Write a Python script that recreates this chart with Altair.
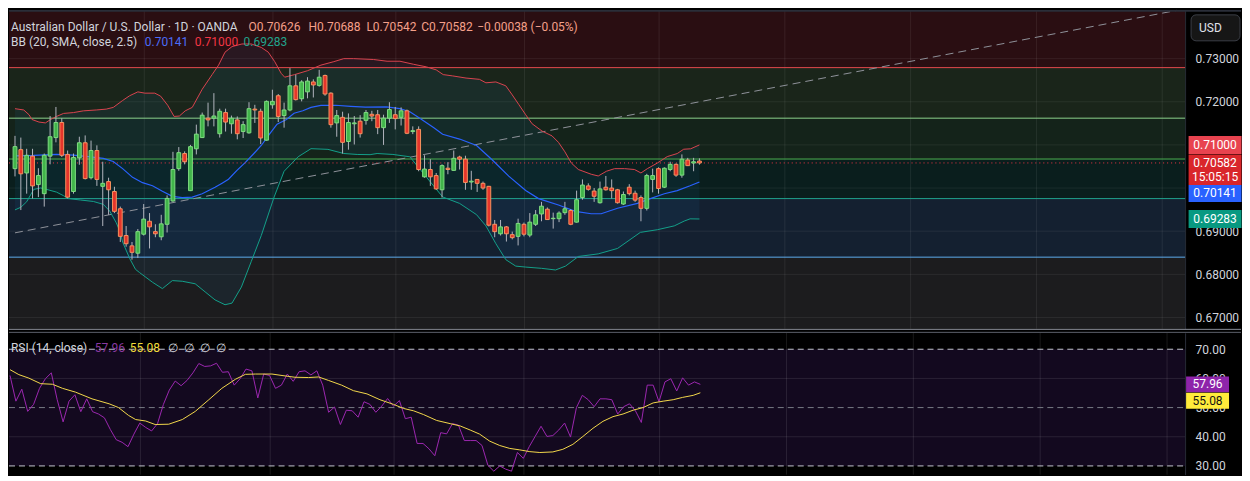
import altair as alt
import pandas as pd

FONT = "Roboto"
W, AX = 1178, 56
HM, HR = 319, 142

# ---------------- data ----------------
opens = [0.7045,0.7089,0.7035,0.7074,0.7008,0.6987,0.7074,0.7117,0.7152,0.7078,
0.6992,0.7070,0.7105,0.7024,0.7087,0.7004,0.7015,0.6992,0.6952,0.6890,
0.6866,0.6849,0.6893,0.6923,0.6899,0.6887,0.6916,0.6970,0.7045,0.7080,
0.6994,0.7091,0.7117,0.7162,0.7162,0.7126,0.7175,0.7149,0.7158,0.7131,
0.7128,0.7183,0.7178,0.7111,0.7193,0.7214,0.7168,0.7181,0.7237,0.7207,
0.7223,0.7246,0.7238,0.7261,0.7220,0.7151,0.7164,0.7108,0.7149,0.7155,
0.7157,0.7171,0.7170,0.7140,0.7162,0.7170,0.7164,0.7179,0.7131,0.7136,
0.7026,0.7043,0.7029,0.6996,0.7046,0.7041,0.7072,0.7067,0.7014,0.7020,
0.7011,0.7004,0.6916,0.6894,0.6910,0.6892,0.6888,0.6916,0.6891,0.6916,
0.6940,0.6951,0.6929,0.6929,0.6943,0.6948,0.6921,0.6978,0.7005,0.6993,
0.6966,0.7002,0.7000,0.6996,0.6963,0.7002,0.6988,0.6978,0.6953,0.7020,
0.7045,0.7002,0.7043,0.7055,0.7030,0.7065,0.7058,0.70626]
highs = [0.7121,0.7117,0.7091,0.7091,0.7046,0.7080,0.7167,0.7188,0.7162,0.7087,
0.7080,0.7119,0.7122,0.7110,0.7099,0.7061,0.7024,0.7003,0.6957,0.6912,
0.6875,0.6905,0.6963,0.6942,0.6916,0.6938,0.6983,0.7084,0.7095,0.7085,
0.7100,0.7147,0.7175,0.7198,0.7220,0.7184,0.7184,0.7168,0.7166,0.7155,
0.7199,0.7193,0.7184,0.7203,0.7228,0.7218,0.7198,0.7278,0.7263,0.7250,
0.7257,0.7252,0.7274,0.7263,0.7222,0.7181,0.7177,0.7173,0.7167,0.7169,
0.7181,0.7179,0.7181,0.7170,0.7199,0.7188,0.7187,0.7182,0.7143,0.7143,
0.7076,0.7067,0.7035,0.7055,0.7060,0.7087,0.7075,0.7075,0.7040,0.7020,
0.7015,0.7005,0.6926,0.6926,0.6912,0.6899,0.6929,0.6920,0.6942,0.6949,
0.6968,0.6955,0.6943,0.6946,0.6968,0.6951,0.6994,0.7020,0.7011,0.7000,
0.7015,0.7028,0.7020,0.6998,0.6992,0.7009,0.6994,0.6983,0.7033,0.7045,
0.7048,0.7048,0.7061,0.7057,0.7078,0.7070,0.7070,0.70688]
lows = [0.7027,0.6949,0.6987,0.6976,0.6979,0.6957,0.7055,0.7106,0.7072,0.6976,
0.6987,0.7054,0.7020,0.7020,0.7005,0.6912,0.6938,0.6942,0.6875,0.6864,
0.6834,0.6838,0.6890,0.6860,0.6886,0.6879,0.6897,0.6968,0.7040,0.7055,
0.6993,0.7078,0.7116,0.7143,0.7143,0.7117,0.7131,0.7126,0.7113,0.7116,
0.7126,0.7151,0.7102,0.7110,0.7184,0.7153,0.7140,0.7178,0.7203,0.7201,
0.7208,0.7210,0.7235,0.7214,0.7140,0.7119,0.7080,0.7089,0.7101,0.7117,
0.7147,0.7155,0.7125,0.7100,0.7151,0.7136,0.7145,0.7125,0.7125,0.7039,
0.7024,0.7005,0.6996,0.6978,0.7032,0.7040,0.7043,0.6996,0.6996,0.6991,
0.6996,0.6911,0.6886,0.6890,0.6876,0.6881,0.6867,0.6888,0.6886,0.6912,
0.6923,0.6926,0.6906,0.6921,0.6938,0.6914,0.6920,0.6973,0.6994,0.6968,
0.6964,0.6994,0.6976,0.6964,0.6961,0.6983,0.6968,0.6923,0.6948,0.6990,
0.6987,0.7000,0.7039,0.7026,0.7024,0.7051,0.7039,0.70542]
closes = [0.7096,0.7033,0.7076,0.7005,0.7029,0.7076,0.7119,0.7152,0.7076,0.6979,
0.7071,0.7105,0.7022,0.7087,0.7020,0.7011,0.6996,0.6946,0.6888,0.6871,
0.6851,0.6899,0.6928,0.6910,0.6894,0.6917,0.6976,0.7043,0.7082,0.7061,
0.7096,0.7125,0.7169,0.7158,0.7167,0.7178,0.7153,0.7162,0.7126,0.7147,
0.7184,0.7181,0.7116,0.7201,0.7201,0.7166,0.7181,0.7237,0.7205,0.7246,
0.7248,0.7239,0.7257,0.7218,0.7147,0.7168,0.7106,0.7152,0.7151,0.7126,
0.7175,0.7167,0.7140,0.7162,0.7182,0.7161,0.7179,0.7127,0.7133,0.7043,
0.7044,0.7026,0.6998,0.7052,0.7043,0.7069,0.7067,0.7013,0.7016,0.7011,
0.7000,0.6914,0.6899,0.6910,0.6894,0.6885,0.6918,0.6893,0.6921,0.6938,
0.6958,0.6927,0.6930,0.6942,0.6952,0.6916,0.6973,0.7007,0.6997,0.6981,
0.6998,0.6996,0.6994,0.6966,0.6985,0.6987,0.6972,0.6953,0.7029,0.7029,
0.6999,0.7046,0.7055,0.7030,0.7067,0.7052,0.7061,0.70582]

bb_up_x = [0,1.5,2.4,2.9,4.1,5.2,6.1,7.1,8.3,10.0,11.7,13.9,15.6,16.8,18.4,19.6,21.0,22.2,23.9,24.9,
26.1,27.2,28.1,29.1,30.3,32.0,33.7,34.8,35.9,37.1,38.8,40.4,42.1,43.3,44.4,45.5,46.1,47.8,50.0,52.3,
54.5,56.2,57.9,61.3,63.6,65.8,68.1,70.3,72.0,73.2,74.8,77.1,79.4,80.5,82.2,83.9,85.0,86.1,87.3,88.4,
90.1,91.8,92.9,94.0,95.1,96.3,98.5,99.7,101.1,102.5,104.2,105.9,107.0,108.1,109.8,111.5,113.2,114.3,115.5,117]
bb_up_y = [0.7184,0.7181,0.7170,0.7159,0.7153,0.7151,0.7159,0.7166,0.7173,0.7175,0.7179,0.7181,0.7183,0.7187,0.7203,0.7214,0.7223,0.7220,0.7220,0.7213,
0.7192,0.7166,0.7167,0.7179,0.7187,0.7229,0.7263,0.7285,0.7315,0.7328,0.7334,0.7334,0.7326,0.7315,0.7293,0.7266,0.7257,0.7263,0.7272,0.7285,
0.7293,0.7300,0.7300,0.7298,0.7294,0.7294,0.7287,0.7281,0.7274,0.7263,0.7260,0.7255,0.7252,0.7244,0.7246,0.7237,0.7216,0.7194,0.7170,0.7149,
0.7132,0.7121,0.7106,0.7084,0.7058,0.7043,0.7032,0.7028,0.7039,0.7045,0.7045,0.7043,0.7035,0.7045,0.7058,0.7073,0.7080,0.7090,0.7091,0.71000]

bb_mid_x = [0,3.2,7.1,10.0,12.9,15.1,16.8,18.4,20.1,21.8,23.5,25.2,26.9,28.6,30.3,32.0,34.2,35.4,36.5,37.9,
39.3,40.8,42.1,43.5,44.8,46.4,47.7,49.2,50.6,52.3,54.8,57.4,59.9,63.5,65.8,67.5,69.2,70.4,71.6,73.1,
76.0,78.9,81.6,84.4,87.3,89.5,92.9,95.8,98.5,100.2,103.0,106.4,108.6,111.0,113.2,115.4,117]
bb_mid_y = [0.70747,0.70756,0.70779,0.70763,0.70725,0.70689,0.70617,0.70450,0.70248,0.70125,0.70054,0.69924,0.69808,0.69779,0.69790,0.69868,0.70018,0.70114,0.70204,0.70405,
0.70584,0.70796,0.70987,0.71248,0.71479,0.71591,0.71736,0.71792,0.71870,0.71915,0.71919,0.71893,0.71875,0.71881,0.71843,0.71770,0.71620,0.71508,0.71396,0.71248,
0.71136,0.70987,0.70651,0.70277,0.69942,0.69756,0.69606,0.69459,0.69405,0.69405,0.69532,0.69644,0.69756,0.69868,0.69942,0.70054,0.70141]

bb_lo_x = [0,1.0,2.0,3.2,4.4,5.4,7.1,8.3,9.1,11.2,13.4,15.1,16.2,17.3,17.9,18.4,19.6,20.6,21.3,23.5,
25.2,26.9,28.6,30.8,32.5,34.2,35.9,37.1,38.7,40.4,42.1,44.3,46.0,48.4,50.6,53.5,56.2,58.5,60.7,61.9,
64.6,67.5,70.4,73.1,76.0,78.9,80.5,82.2,83.9,85.6,87.3,90.0,92.4,94.1,96.3,99.7,103.0,106.9,109.8,112.7,
114.4,115.4,117]
bb_lo_y = [0.69494,0.69555,0.69682,0.69969,0.70002,0.69969,0.69906,0.69823,0.69756,0.69723,0.69689,0.69622,0.69465,0.69197,0.69011,0.68749,0.68369,0.68116,0.68040,0.67817,
0.67669,0.67855,0.67839,0.67781,0.67593,0.67407,0.67295,0.67333,0.67705,0.68302,0.68899,0.69794,0.70389,0.70725,0.70913,0.70897,0.70801,0.70779,0.70774,0.70801,
0.70779,0.70725,0.70242,0.69794,0.69644,0.69383,0.69123,0.68711,0.68340,0.68190,0.68168,0.68139,0.68101,0.68190,0.68414,0.68474,0.68600,0.68973,0.69034,0.69123,
0.69235,0.69286,0.69283]

rsi_vals = [61.0,52.2,56.3,48.7,51.1,56.6,59.9,61.9,52.7,45.1,
52.2,54.4,48.6,53.0,48.6,47.8,46.5,42.5,39.0,38.1,
36.6,40.9,44.7,43.2,42.0,44.5,51.1,56.0,59.1,57.5,
59.3,61.9,65.1,64.1,64.3,65.2,62.1,62.3,57.7,59.9,
63.2,62.6,53.3,61.5,61.0,56.6,57.7,61.5,59.0,62.3,
62.6,61.2,62.6,57.7,48.4,50.2,44.2,49.1,48.9,46.7,
52.0,51.1,48.4,50.5,53.1,50.5,52.4,46.2,46.7,37.7,
37.7,35.9,33.5,41.4,41.0,44.5,44.0,38.7,38.7,38.7,
37.0,30.2,28.2,30.0,28.9,28.2,34.6,32.6,36.6,40.1,
43.6,40.1,40.4,42.3,44.7,39.9,50.0,54.2,52.7,50.3,
53.0,53.0,52.7,47.8,50.3,51.3,48.9,44.9,57.7,57.7,
52.0,58.8,59.9,55.7,60.2,57.7,58.8,57.96]

rsi_ma_x = [0,1.5,3.2,5.2,7.2,8.9,11.1,13.9,16.8,18.4,20.1,21.3,23.0,24.6,26.9,29.2,31.4,33.7,35.9,38.2,
39.9,41.6,44.4,46.1,48.3,50.6,52.3,54.0,56.2,58.2,60.5,62.7,65.0,66.7,68.4,70.1,72.3,74.6,76.3,78.0,
79.6,81.3,83.0,84.7,86.4,88.1,89.8,92.0,93.7,95.4,97.1,98.8,100.5,102.2,103.9,105.6,107.3,109.0,110.7,112.4,
114.0,115.8,117]
rsi_ma_y = [63.0,61.3,60.1,58.2,58.0,56.6,55.3,53.0,51.3,50.0,47.3,45.9,45.4,44.2,44.3,45.9,48.7,52.7,56.6,59.7,
61.4,61.5,61.5,61.0,60.4,60.3,60.5,59.3,57.7,55.8,54.7,52.7,51.1,49.7,48.9,47.6,45.6,44.5,43.7,42.3,
40.9,38.5,37.0,36.0,35.5,34.9,34.6,34.8,35.7,37.4,40.1,42.9,45.3,46.9,47.8,49.1,50.0,51.6,52.2,52.7,
53.5,54.2,55.08]

fib_levels = [0.72792, 0.71620, 0.70673, 0.69756, 0.68398]
price_ticks = [0.67, 0.68, 0.69, 0.70, 0.71, 0.72, 0.73]
price_labels = [0.67, 0.68, 0.69, 0.72, 0.73]   # 0.70 / 0.71 sit under the value tags
rsi_ticks = [30, 40, 50, 60, 70]
rsi_bounds = [70, 30]
rsi_mid = [50]
month_lines = [22.1, 44.1, 65.1, 87.1, 110.1, 131.6, 153.1, 174.6, 196.1]
trend_x = [0.0, 198.6]
trend_y = [0.68962, 0.74119]
countdown = "15:05:15"

XDOM = [-0.17, 199.16]
YDOM = [0.66736, 0.74119]
RDOM = [27.02, 75.62]

# ---------------- styles ----------------
BG = "#000000"
ZONE_COLORS = ["#2a0e12", "#1a251a", "#14231a", "#0a1e1d", "#142030", "#1c1c1e"]
LEVEL_COLORS = ["#e5484d", "#8fd48f", "#4caf50", "#1fa38d", "#5eaef0"]
UP_F, UP_S = "#41b54a", "#7fdc82"
DN_F, DN_S = "#e5352b", "#f7925e"
WICK = "#b2b5be"
TXT = "#d1d4dc"

xs = alt.Scale(domain=XDOM, nice=False, zero=False)
ys = alt.Scale(domain=YDOM, nice=False, zero=False)
rs = alt.Scale(domain=RDOM, nice=False, zero=False)

yaxis = alt.Axis(orient="right", values=price_labels, format=".5f", labelColor=TXT,
                 labelFont=FONT, labelFontSize=12, ticks=False, domain=True,
                 domainColor="#2a2e39", grid=False, labelPadding=10,
                 minExtent=AX, maxExtent=AX, title=None, labelAlign="left")
raxis = alt.Axis(orient="right", values=rsi_ticks, format=".2f", labelColor=TXT,
                 labelFont=FONT, labelFontSize=12, ticks=False, domain=True,
                 domainColor="#2a2e39", grid=False, labelPadding=10,
                 minExtent=AX, maxExtent=AX, title=None, labelAlign="left")


def X(f):
    return alt.X(f, type="quantitative", scale=xs, axis=None)


def Y(f):
    return alt.Y(f, type="quantitative", scale=ys, axis=yaxis)


def R(f):
    return alt.Y(f, type="quantitative", scale=rs, axis=raxis)


one = pd.DataFrame({"k": [0]})


def label(s, x, y, color, size=12, align="left", weight="normal"):
    return alt.Chart(one).mark_text(text=s, align=align, baseline="middle", font=FONT,
                                    fontSize=size, color=color, fontWeight=weight).encode(
        x=alt.value(x), y=alt.value(y))


# ---------------- main panel ----------------
cdf = pd.DataFrame({"i": list(range(len(opens))), "o": opens, "h": highs, "l": lows, "c": closes})
zone_names = ["z%d" % k for k in range(6)]
zones = pd.DataFrame({"zone": zone_names, "top": [YDOM[1]] + fib_levels, "bot": fib_levels + [YDOM[0]]})
lvl_names = ["l%d" % k for k in range(5)]
lv = pd.DataFrame({"lvl": lvl_names, "p": fib_levels})

up_df = pd.DataFrame({"x": bb_up_x, "y": bb_up_y})
mid_df = pd.DataFrame({"x": bb_mid_x, "y": bb_mid_y})
lo_df = pd.DataFrame({"x": bb_lo_x, "y": bb_lo_y})
poly = pd.DataFrame({"x": bb_up_x + bb_lo_x[::-1], "y": bb_up_y + bb_lo_y[::-1],
                     "ord": list(range(len(bb_up_x) + len(bb_lo_x)))})

zone_layer = alt.Chart(zones).mark_rect().encode(
    x=alt.value(0), x2=alt.value(W), y=Y("top"), y2="bot",
    fill=alt.Fill("zone:N", scale=alt.Scale(domain=zone_names, range=ZONE_COLORS), legend=None))
pgrid = alt.Chart(pd.DataFrame({"p": price_ticks})).mark_rule(color="#ffffff", opacity=0.07).encode(
    y=Y("p"), x=alt.value(0), x2=alt.value(W))
tgrid = alt.Chart(pd.DataFrame({"t": month_lines})).mark_rule(color="#ffffff", opacity=0.08).encode(
    x=X("t"), y=alt.value(0), y2=alt.value(HM))
bbfill = alt.Chart(poly).mark_line(fill="#2196f3", fillOpacity=0.07, strokeOpacity=0, strokeWidth=0).encode(
    x=X("x"), y=Y("y"), order="ord:Q")
lvl_layer = alt.Chart(lv).mark_rule(strokeWidth=1).encode(
    y=Y("p"), x=alt.value(0), x2=alt.value(W),
    stroke=alt.Stroke("lvl:N", scale=alt.Scale(domain=lvl_names, range=LEVEL_COLORS), legend=None))
trend = alt.Chart(pd.DataFrame({"x": trend_x, "y": trend_y})).mark_line(
    color="#8f929a", strokeWidth=1, strokeDash=[8, 5]).encode(x=X("x"), y=Y("y"))
bb_up = alt.Chart(up_df).mark_line(color="#d9434e", strokeWidth=1).encode(x=X("x"), y=Y("y"))
bb_mid = alt.Chart(mid_df).mark_line(color="#2962ff", strokeWidth=1.2).encode(x=X("x"), y=Y("y"))
bb_lo = alt.Chart(lo_df).mark_line(color="#13a08a", strokeWidth=1).encode(x=X("x"), y=Y("y"))
last_df = pd.DataFrame({"p": [closes[-1]]})
pline = alt.Chart(last_df).mark_rule(color="#f23645", strokeDash=[1, 3], strokeWidth=1).encode(
    y=Y("p"), x=alt.value(0), x2=alt.value(W))
wicks = alt.Chart(cdf).mark_rule(color=WICK, strokeWidth=1).encode(x=X("i"), y=Y("l"), y2="h")
bodies = alt.Chart(cdf).mark_bar(width=3.8, strokeWidth=1).encode(
    x=X("i"), y=Y("o"), y2="c",
    fill=alt.condition("datum.c >= datum.o", alt.value(UP_F), alt.value(DN_F)),
    stroke=alt.condition("datum.c >= datum.o", alt.value(UP_S), alt.value(DN_S)))

BOXC = "M-1,-0.34L1,-0.34L1,0.34L-1,0.34Z"
BOXL = "M-1,-0.32L1,-0.32L1,0.83L-1,0.83Z"
BOXB = "M-1,0.11L1,0.11L1,0.76L-1,0.76Z"
BX = W + 30


def pbox(val, col, shape, size=2809, x=BX):
    return alt.Chart(pd.DataFrame({"p": [val]})).mark_point(
        shape=shape, size=size, filled=True, color=col, opacity=1, strokeWidth=0).encode(
        x=alt.value(x), y=Y("p"))


def ptext(val, s, dy, color="#ffffff", x=BX, yf=Y):
    return alt.Chart(pd.DataFrame({"p": [val]})).mark_text(
        text=s, dy=dy, align="center", baseline="middle", font=FONT, fontSize=12, color=color).encode(
        x=alt.value(x), y=yf("p"))


boxes = [
    pbox(bb_up_y[-1], "#e8434f", BOXC), ptext(bb_up_y[-1], "%.5f" % bb_up_y[-1], 0),
    pbox(closes[-1], "#d9262b", BOXL), ptext(closes[-1], "%.5f" % closes[-1], 0),
    ptext(closes[-1], countdown, 14),
    pbox(bb_mid_y[-1], "#2962ff", BOXB), ptext(bb_mid_y[-1], "%.5f" % bb_mid_y[-1], 11.5),
    pbox(bb_lo_y[-1], "#089981", BOXC), ptext(bb_lo_y[-1], "%.5f" % bb_lo_y[-1], 0),
]

usd_box = alt.Chart(one).mark_rect(fill="#161616", stroke="#3a3d45", strokeWidth=1, cornerRadius=5).encode(
    x=alt.value(W + 6), x2=alt.value(W + 55), y=alt.value(4.5), y2=alt.value(30.5))
usd_txt = label("USD", W + 14, 18, "#e0e3eb", 12)
top_line = alt.Chart(one).mark_rule(color="#2a2e39", strokeWidth=2).encode(
    x=alt.value(0), x2=alt.value(W + AX), y=alt.value(0.5))

ohlc = "#f5a08a"
legend_main = [
    label("Australian Dollar / U.S. Dollar · 1D · OANDA", 2, 16.5, TXT),
    label("O%.5f" % opens[-1], 240, 16.5, ohlc),
    label("H%.5f" % highs[-1], 300, 16.5, ohlc),
    label("L%.5f" % lows[-1], 358, 16.5, ohlc),
    label("C%.5f" % closes[-1], 413, 16.5, ohlc),
    label("\u22120.00038 (\u22120.05%)", 469, 16.5, ohlc),
    label("BB (20, SMA, close, 2.5)", 2, 32, TXT),
    label("%.5f" % bb_mid_y[-1], 136, 32, "#4a6cf7"),
    label("%.5f" % bb_up_y[-1], 186, 32, "#f23645"),
    label("%.5f" % bb_lo_y[-1], 235, 32, "#22a38c"),
]

main = alt.layer(zone_layer, pgrid, tgrid, bbfill, lvl_layer, trend, bb_up, bb_mid, bb_lo, pline,
                 wicks, bodies, *boxes, usd_box, usd_txt, top_line, *legend_main).properties(
    width=W, height=HM)

# ---------------- RSI panel ----------------
rsi_df = pd.DataFrame({"i": list(range(len(rsi_vals))), "r": rsi_vals})
rma_df = pd.DataFrame({"x": rsi_ma_x, "y": rsi_ma_y})

band = alt.Chart(pd.DataFrame({"a": [rsi_bounds[0]], "b": [rsi_bounds[1]]})).mark_rect(color="#13091f").encode(
    x=alt.value(0), x2=alt.value(W), y=R("a"), y2="b")
rgrid = alt.Chart(pd.DataFrame({"v": [60, 40]})).mark_rule(color="#ffffff", opacity=0.1).encode(
    y=R("v"), x=alt.value(0), x2=alt.value(W))
rtgrid = alt.Chart(pd.DataFrame({"t": month_lines})).mark_rule(color="#ffffff", opacity=0.1).encode(
    x=X("t"), y=alt.value(0), y2=alt.value(HR))
rdash = alt.Chart(pd.DataFrame({"v": rsi_bounds})).mark_rule(color="#c3c6ce", strokeDash=[6, 4]).encode(
    y=R("v"), x=alt.value(0), x2=alt.value(W))
rmid = alt.Chart(pd.DataFrame({"v": rsi_mid})).mark_rule(color="#787b86", strokeDash=[6, 4]).encode(
    y=R("v"), x=alt.value(0), x2=alt.value(W))
rline = alt.Chart(rsi_df).mark_line(color="#9c27b0", strokeWidth=1).encode(x=X("i"), y=R("r"))
rma = alt.Chart(rma_df).mark_line(color="#f2d74a", strokeWidth=1).encode(x=X("x"), y=R("y"))

RBX = W + 22.5
RBOXC = "M-1,-0.37L1,-0.37L1,0.37L-1,0.37Z"
RBOXB = "M-1,0L1,0L1,0.74L-1,0.74Z"


def rbox(val, col, shape):
    return alt.Chart(pd.DataFrame({"p": [val]})).mark_point(
        shape=shape, size=1849, filled=True, color=col, opacity=1, strokeWidth=0).encode(
        x=alt.value(RBX), y=R("p"))


rboxes = [
    rbox(rsi_vals[-1], "#8e24aa", RBOXC),
    ptext(rsi_vals[-1], "%.2f" % rsi_vals[-1], 0, "#ffffff", RBX, R),
    rbox(rsi_ma_y[-1], "#ffeb3b", RBOXB),
    ptext(rsi_ma_y[-1], "%.2f" % rsi_ma_y[-1], 8, "#131313", RBX, R),
]

sep1 = alt.Chart(one).mark_rule(color="#8a8e99", strokeWidth=1).encode(
    x=alt.value(0), x2=alt.value(W + AX), y=alt.value(-3.5))
sep2 = alt.Chart(one).mark_rule(color="#5d606b", strokeWidth=1).encode(
    x=alt.value(0), x2=alt.value(W + AX), y=alt.value(-0.5))

legend_rsi = [
    label("RSI (14, close)", 2, 15.5, TXT),
    label("%.2f" % rsi_vals[-1], 86, 15.5, "#8a3aa0"),
    label("%.2f" % rsi_ma_y[-1], 121, 15.5, "#f2dc3c"),
    label("\u2205", 159, 15.5, TXT),
    label("\u2205", 175, 15.5, TXT),
    label("\u2205", 191, 15.5, TXT),
    label("\u2205", 207, 15.5, TXT),
]

rsi_chart = alt.layer(band, rgrid, rtgrid, rdash, rmid, rline, rma, *rboxes, sep1, sep2,
                      *legend_rsi).properties(width=W, height=HR)

chart = alt.vconcat(main, rsi_chart, spacing=4, padding=0, background=BG, bounds="flush").configure_view(
    stroke=None)

chart.save("out.html", embed_options={"renderer": "svg", "actions": False})
